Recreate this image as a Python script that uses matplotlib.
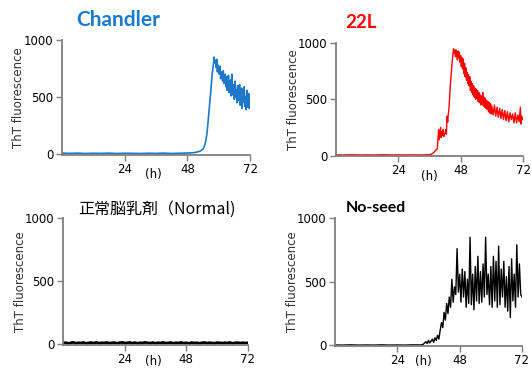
import matplotlib.pyplot as plt

# ---- data (time in h, ThT fluorescence) ----
t_chandler = [0, 3, 6, 9, 12, 15, 18, 21, 24, 27, 30, 33, 36, 39, 42, 45, 48, 50, 51, 52, 53, 54,
              54.5, 55, 55.5, 56, 56.5, 57, 57.5,
              58, 58.25, 58.5, 58.75, 59, 59.25, 59.5, 59.75, 60, 60.25, 60.5, 60.75,
              61, 61.25, 61.5, 61.75, 62, 62.25, 62.5, 62.75, 63, 63.25, 63.5, 63.75,
              64, 64.25, 64.5, 64.75, 65, 65.25, 65.5, 65.75, 66, 66.25, 66.5, 66.75,
              67, 67.25, 67.5, 67.75, 68, 68.25, 68.5, 68.75, 69, 69.25, 69.5, 69.75,
              70, 70.25, 70.5, 70.75, 71, 71.25, 71.5, 71.75, 72]
y_chandler = [12, 9, 11, 8, 10, 9, 11, 8, 10, 9, 8, 10, 9, 11, 8, 10, 12, 14, 17, 22, 30, 45,
              70, 110, 180, 300, 430, 560, 700,
              790, 850, 800, 820, 760, 830, 720, 780, 740, 700, 770, 660,
              720, 690, 640, 730, 620, 650, 700, 590, 680, 560, 620, 690,
              540, 600, 650, 510, 700, 520, 560, 610, 480, 640, 500, 560,
              450, 600, 470, 540, 610, 430, 520, 580, 400, 560, 460, 590,
              420, 500, 390, 560, 450, 410, 530, 400, 460]

t_22l = [0, 3, 6, 9, 12, 15, 18, 21, 24, 27, 30, 33, 36, 36.5, 37, 37.5, 38, 38.5, 39,
         39.25, 39.5, 39.75, 40, 40.25, 40.5, 40.75, 41, 41.25, 41.5, 41.75, 42, 42.25, 42.5,
         42.75, 43, 43.25, 43.5, 43.75, 44, 44.25, 44.5, 44.75, 45, 45.25, 45.5, 45.75,
         46, 46.25, 46.5, 46.75, 47, 47.25, 47.5, 47.75, 48, 48.25, 48.5, 48.75, 49, 49.25,
         49.5, 49.75, 50, 50.25, 50.5, 50.75, 51, 51.25, 51.5, 51.75, 52, 52.25, 52.5, 52.75,
         53, 53.25, 53.5, 53.75, 54, 54.25, 54.5, 54.75, 55, 55.25, 55.5, 55.75, 56, 56.25,
         56.5, 56.75, 57, 57.25, 57.5, 57.75, 58, 58.25, 58.5, 58.75, 59, 59.25, 59.5, 59.75,
         60, 60.5, 61, 61.5, 62, 62.5, 63, 63.5, 64, 64.5, 65, 65.5, 66, 66.5, 67, 67.5,
         68, 68.5, 69, 69.5, 70, 70.5, 71, 71.25, 71.5, 72]
y_22l = [6, 5, 7, 5, 6, 5, 7, 5, 6, 5, 6, 5, 7, 10, 15, 25, 35, 50, 60,
         150, 230, 140, 200, 250, 160, 210, 180, 230, 170, 190, 200, 230, 190,
         350, 300, 370, 420, 520, 620, 700, 760, 840, 900, 950, 910, 940,
         880, 940, 890, 850, 930, 870, 920, 830, 890, 790, 870, 770, 860, 730,
         820, 700, 780, 670, 740, 640, 720, 620, 700, 580, 660, 560, 640, 540,
         620, 520, 600, 500, 590, 510, 580, 480, 560, 470, 540, 450, 530, 460,
         560, 440, 520, 430, 510, 420, 490, 410, 480, 390, 470, 380, 460, 370,
         440, 360, 450, 350, 430, 340, 420, 330, 410, 320, 400, 310, 390, 300, 380, 320,
         370, 290, 380, 290, 360, 300, 430, 280, 350, 320]

t_normal = list(range(0, 73))
y_normal = [10, 14, 8, 12, 16, 9, 13, 11, 15, 8, 12, 14, 10, 16, 9, 13, 11, 15, 10, 12,
            14, 9, 13, 16, 11, 12, 15, 10, 14, 9, 13, 11, 16, 12, 10, 14, 9, 13, 11, 15,
            10, 12, 14, 9, 13, 11, 15, 10, 12, 8, 14, 11, 13, 9, 12, 15, 10, 13, 11, 9,
            14, 12, 10, 13, 11, 15, 9, 12, 14, 10, 13, 11, 12]

t_noseed = [0, 3, 6, 9, 12, 15, 18, 21, 24, 27, 30, 33, 34, 35, 35.5, 36, 36.5, 37, 37.5,
            38, 38.5, 39, 39.5, 40, 40.5, 41, 41.5, 42, 42.5, 43, 43.5, 44, 44.5, 45, 45.5,
            46, 46.5, 47, 47.5, 48, 48.5, 49, 49.5, 50, 50.5, 51, 51.5, 52, 52.5, 53, 53.5,
            54, 54.5, 55, 55.5, 56, 56.5, 57, 57.5, 58, 58.5, 59, 59.5, 60, 60.5, 61, 61.5,
            62, 62.5, 63, 63.5, 64, 64.5, 65, 65.5, 66, 66.5, 67, 67.5, 68, 68.5, 69, 69.5,
            70, 70.5, 71, 71.5, 72]
y_noseed = [4, 3, 5, 3, 4, 3, 5, 3, 4, 3, 5, 4, 10, 30, 15, 40, 20, 35, 50,
            25, 60, 40, 80, 50, 120, 180, 140, 260, 200, 330, 250, 380, 300, 520, 340,
            460, 400, 760, 420, 560, 340, 600, 380, 580, 300, 520, 330, 850, 320, 560, 280,
            620, 350, 700, 330, 580, 340, 640, 380, 850, 400, 560, 320, 620, 300, 700, 350,
            660, 300, 780, 320, 600, 380, 660, 300, 540, 270, 620, 220, 680, 350, 560, 300,
            790, 380, 640, 400, 380]

panels = [
    # rect, t, y, line colour, lw, title, title colour, title centre (px), size, weight, family, "(h)" x, "(h)" drop (px)
    ([0.1165, 0.580, 0.3535, 0.312], t_chandler, y_chandler, '#1f77c9', 1.2,
     'Chandler', '#1a7acb', (118, 20), 15, 'bold', 'Lato', 35, 20),
    ([0.6316, 0.577, 0.3515, 0.306], t_22l, y_22l, '#ff0000', 1.0,
     '22L', '#ff0000', (361, 23), 13.5, 'bold', 'Lato', 36, 20),
    ([0.1184, 0.065, 0.3476, 0.344], t_normal, y_normal, 'black', 2.0,
     '正常脳乳剤（Normal)', 'black', (157, 209), 11.5, 'normal', 'Noto Sans CJK JP', 35, 16),
    ([0.6297, 0.062, 0.3515, 0.347], t_noseed, y_noseed, 'black', 1.0,
     'No-seed', 'black', (376, 208), 11.5, 'bold', 'Lato', 34, 15),
]

W, H = 532, 369
fig = plt.figure(figsize=(W / 100, H / 100), dpi=100)

for rect, t, y, col, lw, title, tcol, tpos, tsize, tweight, tfam, hx, hdrop in panels:
    ax = fig.add_axes(rect)
    ax.plot(t, y, color=col, lw=lw)
    ax.set_xlim(0, 72)
    ax.set_ylim(-5, 1000)
    ax.set_xticks([24, 48, 72])
    ax.set_yticks([0, 500, 1000])
    for s in ['top', 'right']:
        ax.spines[s].set_visible(False)
    for s in ['left', 'bottom']:
        ax.spines[s].set_color('#7f7f7f')
        ax.spines[s].set_linewidth(1.3)
    ax.tick_params(direction='out', length=4, width=1, color='#7f7f7f',
                   labelsize=8.5, pad=2)
    ax.set_ylabel('ThT fluorescence', fontsize=8.5, color='#333333')
    ax.yaxis.set_label_coords(-0.195, 0.5)
    ax.annotate('(h)', xy=(hx, 0), xycoords=('data', 'axes fraction'),
                xytext=(0, -hdrop), textcoords='offset pixels',
                ha='center', va='center', fontsize=8.5)
    fig.text(tpos[0] / W, 1 - tpos[1] / H, title, color=tcol, fontsize=tsize,
             fontweight=tweight, family=[tfam, 'DejaVu Sans'],
             ha='center', va='center')

fig.savefig('out.png', dpi=100)
